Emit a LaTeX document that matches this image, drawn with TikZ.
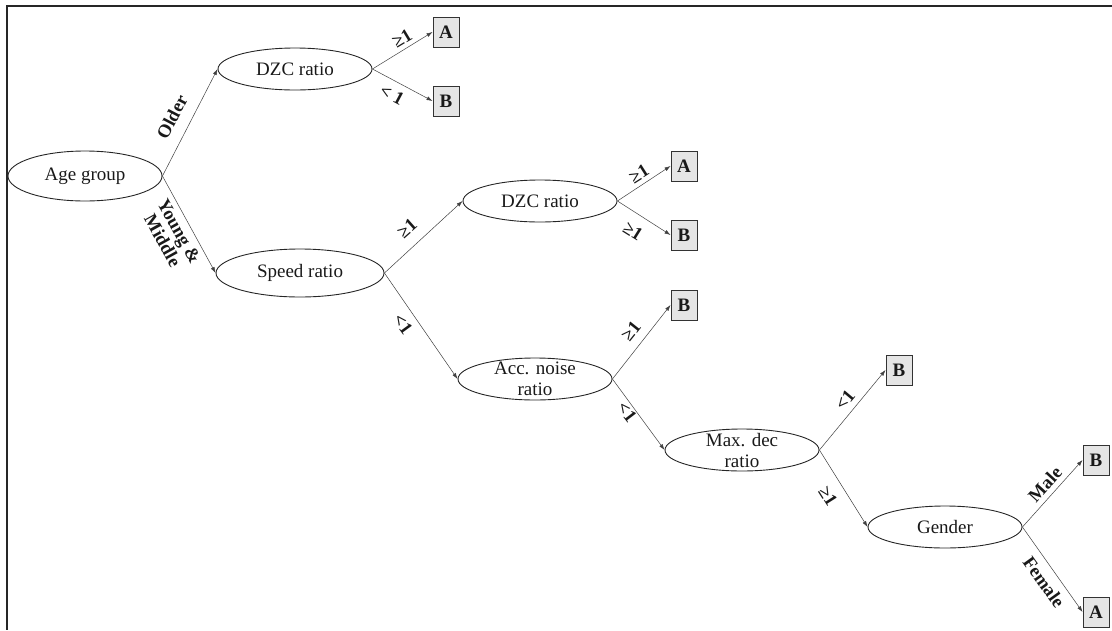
\documentclass[tikz,border=0pt]{standalone}
\usepackage{fontspec}
\setmainfont{Liberation Serif}
\usetikzlibrary{shapes.geometric,arrows.meta}
\begin{document}
\begin{tikzpicture}[x=1pt,y=-1pt,
  oval/.style={ellipse,draw=black!85,line width=0.9pt,inner sep=0pt,minimum width=154pt,minimum height=42pt},
  txt/.style={font=\fontsize{19}{21}\selectfont,align=center,inner sep=0pt,text=black!90},
  leaf/.style={draw=black!80,line width=0.9pt,fill=black!10,minimum width=26pt,minimum height=30pt,inner sep=0pt,font=\fontsize{19}{20}\selectfont\bfseries,text=black!90},
  conn/.style={draw=black!75,line width=0.5pt,-{Latex[length=6pt,width=4pt]}},
  lab/.style={font=\fontsize{18.5}{19}\selectfont\bfseries,inner sep=0pt,align=center,text=black!90}]

\useasboundingbox (0,0) rectangle (1112,630);
\draw[line width=2.2pt,black!85] (1112,6) -- (7,6) -- (7,630);

% decision nodes
\node[oval,minimum width=154pt,minimum height=50pt,label={[txt]center:Age group}] (age) at (85,176) {};
\node[oval,label={[txt]center:DZC ratio}] (dzc1) at (295,69) {};
\node[oval,minimum width=168pt,minimum height=48pt,label={[txt]center:Speed ratio}] (speed) at (300,273) {};
\node[oval,label={[txt]center:DZC ratio}] (dzc2) at (540,201) {};
\node[oval,label={[txt]center:Acc. noise\\ratio}] (acc) at (535,379) {};
\node[oval,label={[txt]center:Max. dec\\ratio}] (maxd) at (742,450) {};
\node[oval,label={[txt]center:Gender}] (gen) at (945,527) {};

% leaves
\node[leaf] (a1) at (446,32) {A};
\node[leaf] (b1) at (446,101) {B};
\node[leaf] (a2) at (684,166) {A};
\node[leaf] (b2) at (684,235) {B};
\node[leaf] (b3) at (684,305) {B};
\node[leaf] (b4) at (899,370) {B};
\node[leaf] (b5) at (1096,460) {B};
\node[leaf] (a5) at (1096,612) {A};

% connectors
\draw[conn] (age.east) -- (dzc1.west);
\draw[conn] (age.east) -- (speed.west);
\draw[conn] (dzc1.east) -- (a1.west);
\draw[conn] (dzc1.east) -- (b1.west);
\draw[conn] (speed.east) -- (dzc2.west);
\draw[conn] (speed.east) -- (acc.west);
\draw[conn] (dzc2.east) -- (a2.west);
\draw[conn] (dzc2.east) -- (b2.west);
\draw[conn] (acc.east) -- (b3.west);
\draw[conn] (acc.east) -- (maxd.west);
\draw[conn] (maxd.east) -- (b4.west);
\draw[conn] (maxd.east) -- (gen.west);
\draw[conn] (gen.east) -- (b5.west);
\draw[conn] (gen.east) -- (a5.west);

% edge labels
\node[lab,rotate=62.4] (lolder) at (172,117) {Older};
\node[lab,rotate=-61] (lyoung) at (171,236) {Young \&\\Middle};
\node[lab,rotate=31] (l1) at (402,38) {≥1};
\node[lab,rotate=-28] (l2) at (392,95) {< 1};
\node[lab,rotate=41.6] (l3) at (407,228) {≥1};
\node[lab,rotate=-54] (l4) at (403,324) {<1};
\node[lab,rotate=32.5] (l5) at (639,174) {≥1};
\node[lab,rotate=-32] (l6) at (633,231) {≥1};
\node[lab,rotate=51.4] (l7) at (631,331) {≥1};
\node[lab,rotate=-52.7] (l8) at (627,412) {<1};
\node[lab,rotate=50] (l9) at (845,400) {<1};
\node[lab,rotate=-57.5] (l10) at (828,496) {≥1};
\node[lab,rotate=47.7] (lmale) at (1045,484) {Male};
\node[lab,rotate=-54.3] (lfemale) at (1044,582) {Female};
\end{tikzpicture}
\end{document}
